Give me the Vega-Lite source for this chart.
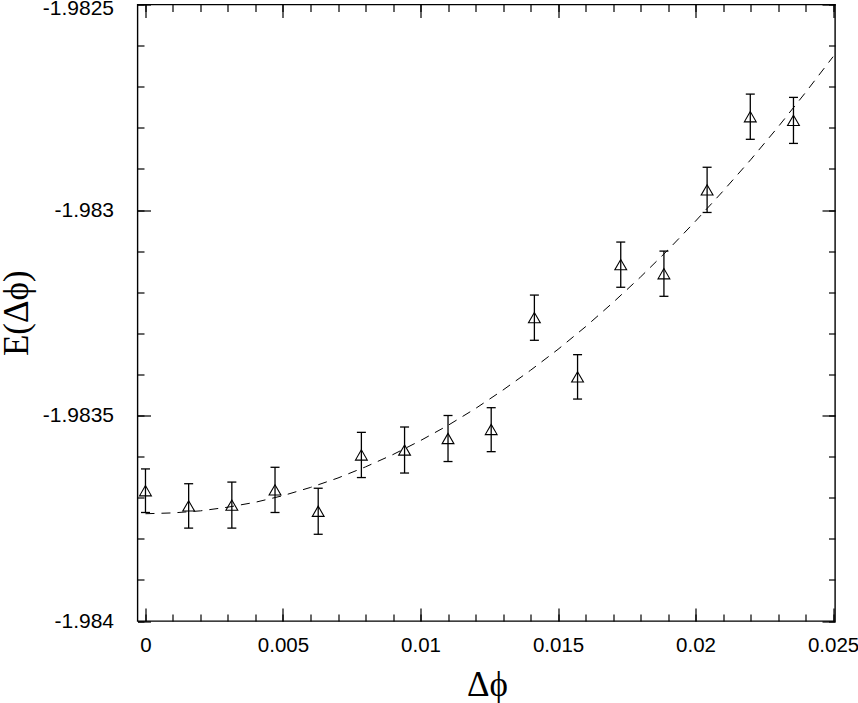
{
  "$schema": "https://vega.github.io/schema/vega-lite/v6.json",
  "width": 697.5,
  "height": 616.5,
  "autosize": {"type": "none"},
  "padding": {"left": 137.5, "top": 4.5, "right": 23, "bottom": 82},
  "background": "white",
  "datasets": {
    "pts": [
      {"dphi": 0.0, "E": -1.983683, "lo": -1.983736, "hi": -1.983630},
      {"dphi": 0.00157, "E": -1.983720, "lo": -1.983774, "hi": -1.983666},
      {"dphi": 0.00314, "E": -1.983718, "lo": -1.983774, "hi": -1.983662},
      {"dphi": 0.00471, "E": -1.983681, "lo": -1.983736, "hi": -1.983626},
      {"dphi": 0.00628, "E": -1.983733, "lo": -1.983789, "hi": -1.983677},
      {"dphi": 0.00785, "E": -1.983596, "lo": -1.983651, "hi": -1.983541},
      {"dphi": 0.00942, "E": -1.983584, "lo": -1.983640, "hi": -1.983528},
      {"dphi": 0.01100, "E": -1.983556, "lo": -1.983612, "hi": -1.983500},
      {"dphi": 0.01257, "E": -1.983534, "lo": -1.983588, "hi": -1.983481},
      {"dphi": 0.01414, "E": -1.983262, "lo": -1.983317, "hi": -1.983207},
      {"dphi": 0.01571, "E": -1.983406, "lo": -1.983460, "hi": -1.983352},
      {"dphi": 0.01728, "E": -1.983133, "lo": -1.983188, "hi": -1.983078},
      {"dphi": 0.01885, "E": -1.983155, "lo": -1.983210, "hi": -1.983100},
      {"dphi": 0.02042, "E": -1.982951, "lo": -1.983006, "hi": -1.982896},
      {"dphi": 0.02199, "E": -1.982773, "lo": -1.982828, "hi": -1.982718},
      {"dphi": 0.02356, "E": -1.982782, "lo": -1.982838, "hi": -1.982726}
    ],
    "fit": [
      {"dphi": 0.000, "E": -1.983739},
      {"dphi": 0.001, "E": -1.983737},
      {"dphi": 0.002, "E": -1.983732},
      {"dphi": 0.003, "E": -1.983723},
      {"dphi": 0.004, "E": -1.983711},
      {"dphi": 0.005, "E": -1.983695},
      {"dphi": 0.006, "E": -1.983675},
      {"dphi": 0.007, "E": -1.983652},
      {"dphi": 0.008, "E": -1.983625},
      {"dphi": 0.009, "E": -1.983595},
      {"dphi": 0.010, "E": -1.983561},
      {"dphi": 0.011, "E": -1.983524},
      {"dphi": 0.012, "E": -1.983483},
      {"dphi": 0.013, "E": -1.983438},
      {"dphi": 0.014, "E": -1.983390},
      {"dphi": 0.015, "E": -1.983339},
      {"dphi": 0.016, "E": -1.983284},
      {"dphi": 0.017, "E": -1.983225},
      {"dphi": 0.018, "E": -1.983163},
      {"dphi": 0.019, "E": -1.983097},
      {"dphi": 0.020, "E": -1.983027},
      {"dphi": 0.021, "E": -1.982954},
      {"dphi": 0.022, "E": -1.982878},
      {"dphi": 0.023, "E": -1.982798},
      {"dphi": 0.024, "E": -1.982714},
      {"dphi": 0.025, "E": -1.982627}
    ]
  },
  "config": {
    "view": {"stroke": "black", "strokeWidth": 1.4},
    "axis": {
      "domain": false,
      "grid": false,
      "tickColor": "black",
      "tickWidth": 1.2,
      "labelColor": "black",
      "labelFont": "Liberation Sans",
      "labelFontSize": 20.5,
      "titleColor": "black"
    }
  },
  "resolve": {"axis": {"x": "independent", "y": "independent"}},
  "layer": [
    {
      "data": {"name": "fit"},
      "mark": {"type": "line", "color": "black", "strokeWidth": 1, "strokeDash": [9, 7]},
      "encoding": {
        "x": {
          "field": "dphi", "type": "quantitative",
          "scale": {"domain": [-0.00029, 0.02507], "nice": false, "zero": false},
          "axis": {
            "orient": "bottom", "ticks": false, "labels": true, "labelPadding": 14.5,
            "values": [0, 0.005, 0.01, 0.015, 0.02, 0.025],
            "format": ".3~f",
            "labelFlush": false,
            "title": "Δϕ",
            "titleFont": "Liberation Serif", "titleFontSize": 35, "titleFontWeight": "normal",
            "titleX": 349.5, "titleY": 74, "titleBaseline": "alphabetic", "titleAlign": "center", "titleAnchor": "middle"
          }
        },
        "y": {
          "field": "E", "type": "quantitative",
          "scale": {"domain": [-1.984, -1.9825], "nice": false, "zero": false},
          "axis": {
            "orient": "left", "ticks": false, "labels": true, "labelPadding": 24,
            "labelFontSize": 21,
            "labelOffset": {"condition": {"test": "datum.value > -1.98255", "value": 3.5}, "value": 0},
            "values": [-1.984, -1.9835, -1.983, -1.9825],
            "labelExpr": "datum.value < 0 ? '-' + format(-datum.value, '.5~f') : format(datum.value, '.5~f')",
            "labelFlush": false,
            "title": "E(Δϕ)",
            "titleFont": "Liberation Serif", "titleFontSize": 35, "titleFontWeight": "normal",
            "titleAngle": -90, "titleX": -110, "titleY": 308.25, "titleBaseline": "alphabetic", "titleAlign": "center", "titleAnchor": "middle"
          }
        }
      }
    },
    {
      "data": {"name": "pts"},
      "mark": {"type": "rule", "color": "black", "strokeWidth": 1.3},
      "encoding": {
        "x": {
          "field": "dphi", "type": "quantitative",
          "axis": {"orient": "bottom", "labels": false, "title": null, "tickSize": -13,
                   "values": [0, 0.005, 0.01, 0.015, 0.02, 0.025]}
        },
        "y": {
          "field": "lo", "type": "quantitative",
          "axis": {"orient": "left", "labels": false, "title": null, "tickSize": -13,
                   "values": [-1.984, -1.9835, -1.983, -1.9825]}
        },
        "y2": {"field": "hi"}
      }
    },
    {
      "data": {"name": "pts"},
      "mark": {"type": "tick", "orient": "horizontal", "color": "black", "size": 9, "thickness": 1.3, "opacity": 1},
      "encoding": {
        "x": {
          "field": "dphi", "type": "quantitative",
          "axis": {"orient": "bottom", "labels": false, "title": null, "tickSize": -7,
                   "values": [0, 0.001, 0.002, 0.003, 0.004, 0.005, 0.006, 0.007, 0.008, 0.009, 0.01, 0.011, 0.012, 0.013, 0.014, 0.015, 0.016, 0.017, 0.018, 0.019, 0.02, 0.021, 0.022, 0.023, 0.024, 0.025]}
        },
        "y": {
          "field": "lo", "type": "quantitative",
          "axis": {"orient": "left", "labels": false, "title": null, "tickSize": -6.5,
                   "values": [-1.984, -1.9839, -1.9838, -1.9837, -1.9836, -1.9835, -1.9834, -1.9833, -1.9832, -1.9831, -1.983, -1.9829, -1.9828, -1.9827, -1.9826, -1.9825]}
        }
      }
    },
    {
      "data": {"name": "pts"},
      "mark": {"type": "tick", "orient": "horizontal", "color": "black", "size": 9, "thickness": 1.3, "opacity": 1},
      "encoding": {
        "x": {
          "field": "dphi", "type": "quantitative",
          "axis": {"orient": "top", "labels": false, "title": null, "tickSize": -13,
                   "values": [0, 0.005, 0.01, 0.015, 0.02, 0.025]}
        },
        "y": {
          "field": "hi", "type": "quantitative",
          "axis": {"orient": "right", "labels": false, "title": null, "tickSize": -13,
                   "values": [-1.984, -1.9835, -1.983, -1.9825]}
        }
      }
    },
    {
      "data": {"name": "pts"},
      "mark": {"type": "point", "shape": "triangle-up", "size": 140, "filled": false, "stroke": "black", "strokeWidth": 1.1, "opacity": 1},
      "encoding": {
        "x": {
          "field": "dphi", "type": "quantitative",
          "axis": {"orient": "top", "labels": false, "title": null, "tickSize": -7,
                   "values": [0, 0.001, 0.002, 0.003, 0.004, 0.005, 0.006, 0.007, 0.008, 0.009, 0.01, 0.011, 0.012, 0.013, 0.014, 0.015, 0.016, 0.017, 0.018, 0.019, 0.02, 0.021, 0.022, 0.023, 0.024, 0.025]}
        },
        "y": {
          "field": "E", "type": "quantitative",
          "axis": {"orient": "right", "labels": false, "title": null, "tickSize": -6.5,
                   "values": [-1.984, -1.9839, -1.9838, -1.9837, -1.9836, -1.9835, -1.9834, -1.9833, -1.9832, -1.9831, -1.983, -1.9829, -1.9828, -1.9827, -1.9826, -1.9825]}
        }
      }
    }
  ]
}
